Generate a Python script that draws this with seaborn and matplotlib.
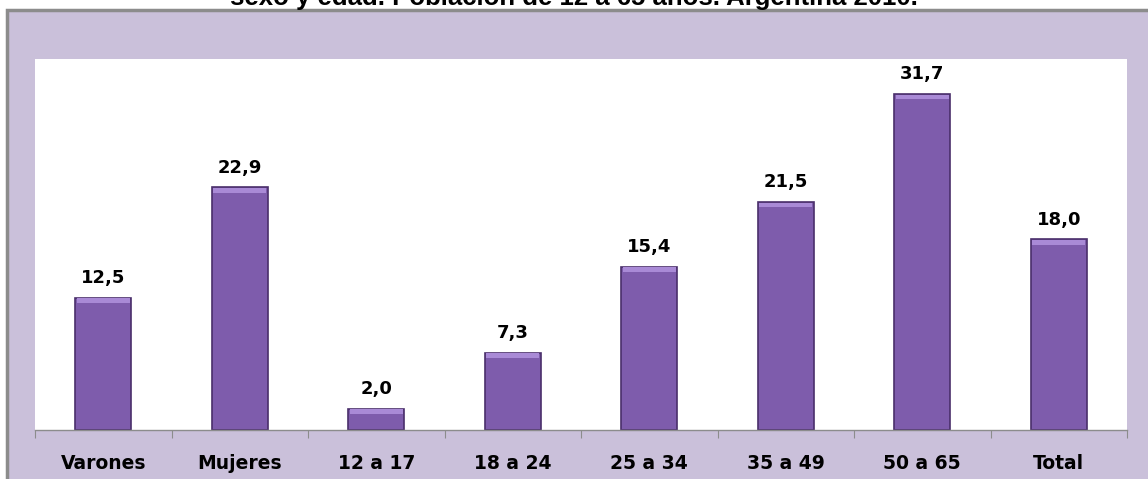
import matplotlib
matplotlib.use('Agg')
import matplotlib.pyplot as plt
import seaborn as sns
import pandas as pd
from matplotlib.patches import Rectangle

# datos
categorias = ['Varones', 'Mujeres', '12 a 17', '18 a 24', '25 a 34', '35 a 49', '50 a 65', 'Total']
valores = [12.5, 22.9, 2.0, 7.3, 15.4, 21.5, 31.7, 18.0]
titulo = 'sexo y edad. Población de 12 a 65 años. Argentina 2010.'

df = pd.DataFrame({'categoria': categorias, 'valor': valores})

sns.set_style('white')
plt.rcParams['font.family'] = ['DejaVu Sans']

W, H = 1148, 479
fig = plt.figure(figsize=(W / 100, H / 100), dpi=100)
fig.patch.set_facecolor('white')

# marco lila del gráfico
marco = Rectangle((7 / W, -0.1), 1.2, 0.1 + (H - 10) / H, transform=fig.transFigure,
                  facecolor='#CAC0DA', edgecolor='#8C8C8C', linewidth=2.5, zorder=-5)
fig.add_artist(marco)

ax = fig.add_axes([35 / W, (H - 430) / H, (1127 - 35) / W, (430 - 59) / H])
ax.set_facecolor('white')
ax.set_zorder(1)

sns.barplot(data=df, x='categoria', y='valor', color='#7E5CAC', width=0.41,
            edgecolor='#4A2F6B', linewidth=1.2, saturation=1, ax=ax)

# brillo superior (bisel)
for p in list(ax.patches):
    x0, w, h = p.get_x(), p.get_width(), p.get_height()
    ax.add_patch(Rectangle((x0 + 0.01, h - 0.5), w - 0.02, 0.45, facecolor='#A98AD6',
                           edgecolor='none', zorder=3))

for i, v in enumerate(valores):
    ax.text(i, v + 1.0, f'{v:.1f}'.replace('.', ','), ha='center', va='bottom',
            fontsize=13, fontweight='bold', color='black')

ax.set_xlim(-0.5, len(categorias) - 0.5)
ax.set_ylim(0, 35)
ax.set_yticks([])
ax.set_xlabel('')
ax.set_ylabel('')
ax.set_xticks([i - 0.5 for i in range(len(categorias) + 1)], minor=False)
ax.set_xticklabels([])
ax.set_xticks(range(len(categorias)), minor=True)
ax.set_xticklabels(categorias, minor=True, fontsize=13.5, fontweight='bold', color='black')
ax.tick_params(axis='x', which='major', length=6, color='#8C8C8C', direction='out', bottom=True)
ax.tick_params(axis='x', which='minor', length=0, pad=17)
for s in ['top', 'right', 'left']:
    ax.spines[s].set_visible(False)
ax.spines['bottom'].set_color('#8C8C8C')
ax.spines['bottom'].set_linewidth(1)

# título (cortado en el borde superior, como en el original)
fig.text(574 / W, 1 - 5 / H, titulo, ha='center', va='baseline', fontsize=18.5,
         fontweight='bold', family='Liberation Sans', color='black')

fig.savefig('out.png', dpi=100, facecolor='white')
